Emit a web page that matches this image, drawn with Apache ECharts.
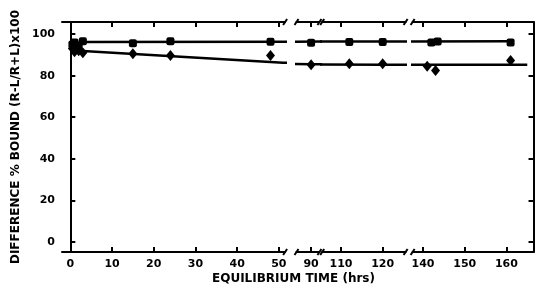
<!DOCTYPE html>
<html><head><meta charset="utf-8">
<script src="https://cdn.jsdelivr.net/npm/echarts@6/dist/echarts.min.js"></script>
<style>html,body{margin:0;padding:0;background:#fff}#c{width:539px;height:294px}</style>
</head><body><div id="c"></div>
<script>
// ---- data ----
const squaresX = [0.5, 1, 2, 3, 15, 24, 48, 90, 112, 120, 142, 143.5, 161];
const squaresY = [95, 96, 94.5, 96.5, 95.6, 96.5, 96.3, 95.8, 96.2, 96.2, 96, 96.4, 96];
const diamondsX = [0.5, 1, 2, 3, 15, 24, 48, 90, 112, 120, 141, 143, 161];
const diamondsY = [93, 91.5, 92, 91, 90.5, 89.7, 89.7, 85.2, 85.7, 85.7, 84.5, 82.5, 87.3];
const squareFitX = [2, 161];
const squareFitY = [96.2, 96.5];
const diamondFitX = [2, 51, 90, 120, 165];
const diamondFitY = [92, 86.2, 85.5, 85.3, 85.2];
const segRanges = [[-2, 51.5], [86.5, 92], [105.5, 125.5], [137.5, 166.5]];
const segTicks = [[0, 10, 20, 30, 40, 50], [90], [110, 120], [140, 150, 160]];
const yTicks = [0, 20, 40, 60, 80, 100];
const yRange = [-4.8, 105.8];
const yTitle = 'DIFFERENCE % BOUND (R-L/R+L)x100';
const xTitle = 'EQUILIBRIUM TIME (hrs)';

// ---- layout ----
const pxPerHr = 4.17;
const gridLefts = [62, 296.5, 322.2, 412.6];
const gTop = 22, gHeight = 230;
const FONT = 'DejaVu Sans';
const lineStyle = {color: '#000', width: 2};

const grids = [], xAxes = [], yAxes = [], series = [];
const zip = (xs, ys) => xs.map((x, i) => [x, ys[i]]);
const sq = zip(squaresX, squaresY), di = zip(diamondsX, diamondsY);
const sqFit = zip(squareFitX, squareFitY), diFit = zip(diamondFitX, diamondFitY);

segRanges.forEach((r, i) => {
  grids.push({left: gridLefts[i], top: gTop, width: (r[1] - r[0]) * pxPerHr, height: gHeight});
  const base = {type: 'value', gridIndex: i, min: r[0], max: r[1], splitLine: {show: false},
    axisLine: {show: true, onZero: false, lineStyle: lineStyle}};
  xAxes.push(Object.assign({}, base, {position: 'bottom',
    axisTick: {show: true, inside: true, length: 5, lineStyle: lineStyle, customValues: segTicks[i]},
    axisLabel: {show: true, customValues: segTicks[i], color: '#000', fontFamily: FONT, fontWeight: 'bold', fontSize: 11, margin: 7}}));
  xAxes.push(Object.assign({}, base, {position: 'top',
    axisTick: {show: true, inside: true, length: 5, lineStyle: lineStyle, customValues: segTicks[i]},
    axisLabel: {show: false}}));
  const yb = {type: 'value', gridIndex: i, min: yRange[0], max: yRange[1], splitLine: {show: false}};
  if (i === 0) {
    yAxes.push(Object.assign({}, yb, {position: 'left',
      axisLine: {show: true, lineStyle: lineStyle},
      axisTick: {show: true, inside: true, length: 5, lineStyle: lineStyle, customValues: yTicks},
      axisLabel: {show: true, customValues: yTicks, color: '#000', fontFamily: FONT, fontWeight: 'bold', fontSize: 11, margin: 7},
      name: yTitle, nameLocation: 'middle', nameRotate: 90, nameGap: 40,
      nameTextStyle: {color: '#000', fontFamily: FONT, fontWeight: 'bold', fontSize: 12}}));
  } else if (i === 3) {
    yAxes.push(Object.assign({}, yb, {position: 'right',
      axisLine: {show: true, lineStyle: lineStyle},
      axisTick: {show: true, inside: true, length: 5, lineStyle: lineStyle, customValues: yTicks},
      axisLabel: {show: false}}));
  } else {
    yAxes.push(Object.assign({}, yb, {show: false}));
  }
  const inR = p => p[0] >= r[0] && p[0] <= r[1];
  series.push({type: 'line', xAxisIndex: 2 * i, yAxisIndex: i, data: sqFit, symbol: 'none', clip: true,
    lineStyle: {color: '#000', width: 2.5}, silent: true, z: 2});
  series.push({type: 'line', xAxisIndex: 2 * i, yAxisIndex: i, data: diFit, symbol: 'none', clip: true,
    lineStyle: {color: '#000', width: 2.5}, silent: true, z: 2});
  series.push({type: 'scatter', xAxisIndex: 2 * i, yAxisIndex: i, data: sq.filter(inR), symbol: 'roundRect',
    symbolSize: 8, itemStyle: {color: '#000', opacity: 1}, z: 3});
  series.push({type: 'scatter', xAxisIndex: 2 * i, yAxisIndex: i, data: di.filter(inR), symbol: 'diamond',
    symbolSize: [9, 11], itemStyle: {color: '#000', opacity: 1}, z: 3});
});

// break marks at segment ends on top and bottom axis lines
const graphics = [{type: 'text', left: 212, top: 273,
  style: {text: xTitle, fill: '#000', font: 'bold 12px "DejaVu Sans"'}}];
grids.forEach((g, i) => {
  const ends = [];
  if (i > 0) ends.push(g.left);
  if (i < grids.length - 1) ends.push(g.left + g.width);
  ends.forEach(x => {
    [gTop, gTop + gHeight].forEach(y => {
      graphics.push({type: 'line', shape: {x1: x - 2, y1: y + 3, x2: x + 2, y2: y - 3},
        style: {stroke: '#000', lineWidth: 2}, z: 10});
    });
  });
});

const chart = echarts.init(document.getElementById('c'), null, {renderer: 'canvas'});
chart.setOption({
  animation: false,
  backgroundColor: '#fff',
  grid: grids, xAxis: xAxes, yAxis: yAxes, series: series,
  graphic: graphics
});
</script></body></html>
